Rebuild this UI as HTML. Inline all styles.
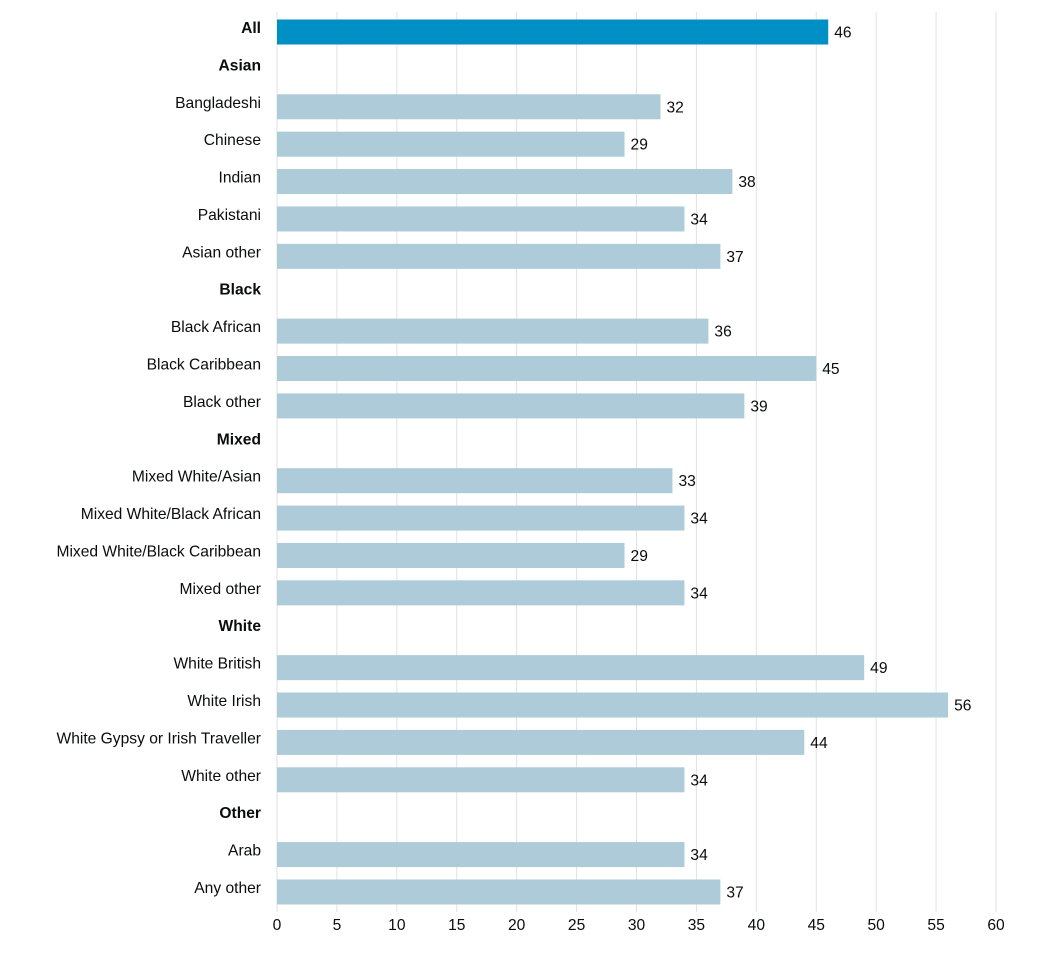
<!DOCTYPE html>
<html><head><meta charset="utf-8"><style>
body{margin:0;background:#fff;font-family:"Liberation Sans",sans-serif;}
svg text{font-family:"Liberation Sans",sans-serif;font-size:15.6px;fill:#0b0c0c;}
</style></head><body>
<svg id="chart" width="1053" height="950" xmlns="http://www.w3.org/2000/svg"></svg>
<script>
const categories=["All","Asian","Bangladeshi","Chinese","Indian","Pakistani","Asian other","Black","Black African","Black Caribbean","Black other","Mixed","Mixed White/Asian","Mixed White/Black African","Mixed White/Black Caribbean","Mixed other","White","White British","White Irish","White Gypsy or Irish Traveller","White other","Other","Arab","Any other"];
const values=[46,null,32,29,38,34,37,null,36,45,39,null,33,34,29,34,null,49,56,44,34,null,34,37];
const ticks=[0,5,10,15,20,25,30,35,40,45,50,55,60];
const svg=document.getElementById('chart');
const NS='http://www.w3.org/2000/svg';
const x=v=>277+v*(719/60);
const y=i=>32+i*37.39;
function mk(t,a){const e=document.createElementNS(NS,t);for(const k in a)e.setAttribute(k,a[k]);svg.appendChild(e);return e;}
ticks.forEach(t=>{
  const g=mk('line',{x1:x(t),x2:x(t),y1:12,y2:912,stroke:'#e2e2e2','stroke-width':1});
  
  
  const l=mk('text',{x:x(t),y:930,'text-anchor':'middle'});
  l.textContent=t;
  
  
});
categories.forEach((c,i)=>{
  const v=values[i];
  const lab=mk('text',{x:261,y:y(i)+1,'text-anchor':'end','font-weight':v===null||i===0?'bold':'normal'});
  lab.textContent=c;
  
  
  if(v!==null){
    const b=mk('rect',{x:x(0),y:y(i)-12.5,width:x(v)-x(0),height:25,fill:i===0?'#0090c6':'#adcbd8'});
    
    
    const vl=mk('text',{x:x(v)+6,y:y(i)+5.5});
    vl.textContent=v;
    
    
  }
});
</script>
</body></html>
